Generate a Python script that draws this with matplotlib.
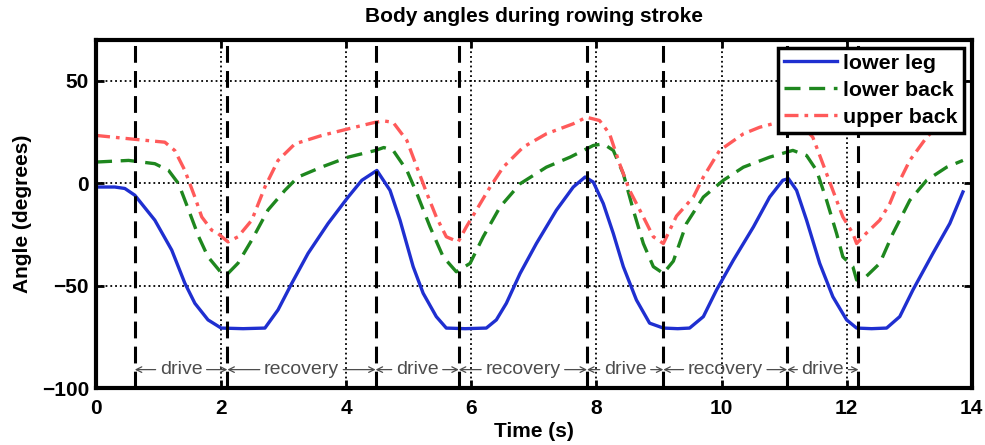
import numpy as np
import matplotlib.pyplot as plt

plt.rcParams['font.family'] = ['Liberation Sans', 'DejaVu Sans']

# lower leg angle (deg) vs time (s)
t_leg = [0.0, 0.3, 0.46, 0.62, 0.94, 1.21, 1.42, 1.58, 1.79, 2.0, 2.35, 2.7, 2.91, 3.13,
         3.39, 3.71, 4.03, 4.25, 4.49, 4.7, 4.86, 5.07, 5.23, 5.44, 5.6, 5.9, 6.24,
         6.4, 6.56, 6.78, 7.04, 7.36, 7.63, 7.82, 7.95, 8.11, 8.27, 8.43, 8.64, 8.85, 9.07,
         9.3, 9.49, 9.71, 9.92, 10.19, 10.51, 10.77, 10.98, 11.07, 11.2, 11.36, 11.57, 11.78,
         12.0, 12.16, 12.4, 12.64, 12.85, 13.06, 13.38, 13.65, 13.86]
lower_leg = [-1.8, -1.8, -2.5, -5.8, -18, -32.6, -48.8, -58.6, -66.7, -70.7, -71, -70.7, -61.8, -48.8,
             -34.2, -19.6, -6.7, 1.5, 6.3, -3.4, -18, -40.7, -53.7, -65.1, -70.7, -71, -70.7,
             -66.7, -58.6, -44, -29.4, -13.1, -1.8, 3.1, 0.6, -9.9, -24.5, -40.7, -57, -68.3, -70.7,
             -71, -70.7, -65.1, -52.1, -37.5, -21.3, -6.7, 1.5, 2.3, -3.4, -18, -39.1, -55.4,
             -66.7, -70.7, -71, -70.7, -65.1, -52.1, -34.2, -19.6, -4.2]

t_lback = [0.0, 0.52, 0.94, 1.16, 1.32, 1.48, 1.64, 1.79, 2.01, 2.11, 2.27, 2.49, 2.75, 3.02,
           3.23, 3.61, 4.03, 4.46, 4.6, 4.75, 4.97, 5.13, 5.34, 5.55, 5.76, 5.98, 6.19, 6.46,
           6.78, 7.2, 7.58, 7.95, 8.11, 8.27, 8.43, 8.59, 8.75, 8.91, 9.07, 9.23, 9.44, 9.71,
           10.03, 10.35, 10.77, 11.14, 11.36, 11.52, 11.68, 11.84, 11.94, 12.1, 12.16, 12.31,
           12.53, 12.74, 13.01, 13.28, 13.6, 13.86]
lower_back = [10.4, 11.2, 9.6, 6.3, -0.2, -13, -26, -35.9, -44, -44, -39, -27.7, -13, -3.4,
              3.1, 8, 12.8, 16, 17.5, 16.1, 6.3, -5, -21.3, -35.9, -43.2, -39.1, -26.1, -11.5,
              -0.2, 7.9, 12.8, 18.5, 19.3, 16.1, 4.7, -13.1, -29.4, -40.7, -44, -38, -19.6, -6.7,
              1.5, 7.9, 12.8, 16.1, 13.6, 6.3, -8.3, -24.5, -35.9, -40.7, -47.2, -45.6,
              -39.1, -24.5, -8.3, 1.5, 7.9, 11.2]

t_uback = [0.0, 0.52, 1.1, 1.26, 1.42, 1.58, 1.69, 1.85, 1.95, 2.11, 2.27, 2.49, 2.7, 2.91,
           3.18, 3.61, 4.03, 4.46, 4.6, 4.75, 4.97, 5.13, 5.29, 5.44, 5.6, 5.79, 5.92, 6.08,
           6.3, 6.51, 6.83, 7.2, 7.63, 7.84, 8.05, 8.21, 8.37, 8.53, 8.75, 8.91, 9.07,
           9.28, 9.55, 9.71, 9.97, 10.35, 10.61, 10.82, 11.05, 11.3, 11.46, 11.62, 11.78,
           11.94, 12.1, 12.16, 12.31, 12.53, 12.69, 12.8, 13.01, 13.28, 13.44, 13.86]
upper_back = [23.4, 21.8, 20.1, 16, 6.3, -6.7, -16.4, -22.9, -24.5, -28.6, -26.1, -18, -1.8, 11.2,
              19.3, 23.4, 26.6, 29.8, 30.5, 29.8, 20.9, 7.9, -5, -16.4, -26.1, -28.6, -21.3, -13.1,
              -1.8, 7.9, 17.7, 24.2, 29.1, 32.3, 30.7, 24.2, 9.6, -3.4, -16.4, -26.1, -29.4,
              -16, -6.7, 3.1, 16.1, 24.2, 27.4, 29.1, 30, 28, 22.5, 9.6, -3.4,
              -16.4, -24.5, -29.4, -24.5, -18, -9.9, -1.8, 11.2, 22.5, 27.4, 28.5]

# stroke phase boundaries (s)
phase_t = [0.62, 2.1, 4.47, 5.8, 7.85, 9.07, 11.05, 12.19]
phase_lab = ['drive', 'recovery', 'drive', 'recovery', 'drive', 'recovery', 'drive']

fig = plt.figure(figsize=(9.85, 4.45), dpi=100)
ax = fig.add_axes([0.0975, 0.128, 0.889, 0.782])

ax.plot(t_leg, lower_leg, color='#1f2fd0', lw=2.4, label='lower leg')
ax.plot(t_lback, lower_back, color='#1e871e', lw=2.4, ls=(0, (4.8, 2.6)), label='lower back')
ax.plot(t_uback, upper_back, color='#ff5a5a', lw=2.4, ls=(0, (4.2, 1.8, 1.1, 1.8)), label='upper back')

for xv in phase_t:
    ax.axvline(xv, color='black', lw=2.2, ls=(0, (5.5, 2.7)), zorder=3)

ap = dict(arrowstyle='->', color='#4d4d4d', lw=0.9, shrinkA=1, shrinkB=0, mutation_scale=10)
for i, lab in enumerate(phase_lab):
    a, b = phase_t[i], phase_t[i + 1]
    xc = (a + b) / 2
    ax.annotate(lab, xy=(a, -91), xytext=(xc, -91), ha='center', va='center',
                color='#4d4d4d', fontsize=14, arrowprops=ap, zorder=4)
    ax.annotate(lab, xy=(b, -91), xytext=(xc, -91), ha='center', va='center',
                color='none', fontsize=14, arrowprops=ap, zorder=4)

ax.set_xlim(0, 14)
ax.set_ylim(-100, 70)
ax.set_xticks(np.arange(0, 15, 2))
ax.set_yticks([-100, -50, 0, 50])
ax.grid(True, color='black', ls=':', lw=1.3)
ax.tick_params(direction='in', length=6, width=2, top=True, right=True, labelsize=15)
ax.tick_params(axis='x', pad=8)
ax.tick_params(axis='y', pad=5)
for lb in ax.get_xticklabels() + ax.get_yticklabels():
    lb.set_fontweight('bold')
for sp in ax.spines.values():
    sp.set_linewidth(3)

ax.set_title('Body angles during rowing stroke', fontsize=15, fontweight='bold', pad=13)
ax.set_xlabel('Time (s)', fontsize=15, fontweight='bold', labelpad=3)
ax.set_ylabel('Angle (degrees)', fontsize=15, fontweight='bold', labelpad=7)

leg = ax.legend(loc='upper right', fancybox=False, framealpha=1,
                borderaxespad=0.35, handlelength=2.45, borderpad=0.3, labelspacing=0.37,
                handletextpad=0.3, prop={'weight': 'bold', 'size': 15.4})
leg.get_frame().set_edgecolor('black')
leg.get_frame().set_linewidth(2.5)

fig.savefig('out.png', dpi=100)
